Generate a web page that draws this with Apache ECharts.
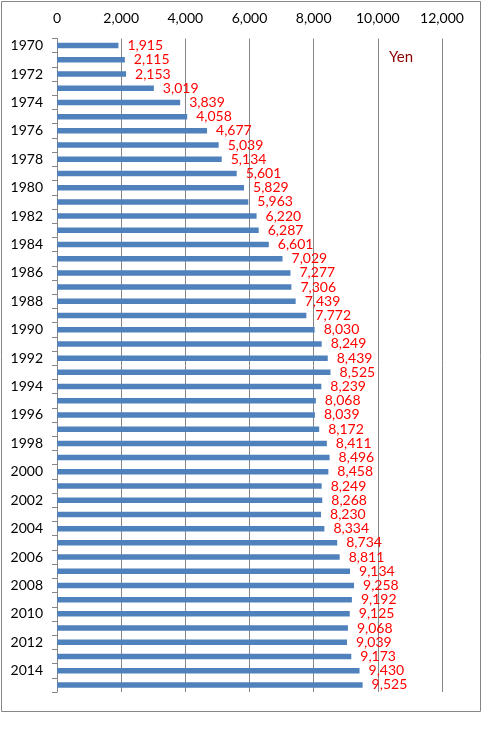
<!DOCTYPE html>
<html>
<head>
<meta charset="utf-8">
<script src="https://cdn.jsdelivr.net/npm/echarts@6/dist/echarts.min.js"></script>
<style>
  html, body { margin: 0; padding: 0; background: #fff; }
  #box { width: 483px; height: 734px; }
</style>
</head>
<body>
<div id="box"></div>
<script>
const years = ['1970', '1971', '1972', '1973', '1974', '1975', '1976', '1977', '1978', '1979',
  '1980', '1981', '1982', '1983', '1984', '1985', '1986', '1987', '1988', '1989',
  '1990', '1991', '1992', '1993', '1994', '1995', '1996', '1997', '1998', '1999',
  '2000', '2001', '2002', '2003', '2004', '2005', '2006', '2007', '2008', '2009',
  '2010', '2011', '2012', '2013', '2014', '2015'];

const yen = [1915, 2115, 2153, 3019, 3839, 4058, 4677, 5039, 5134, 5601,
  5829, 5963, 6220, 6287, 6601, 7029, 7277, 7306, 7439, 7772,
  8030, 8249, 8439, 8525, 8239, 8068, 8039, 8172, 8411, 8496,
  8458, 8249, 8268, 8230, 8334, 8734, 8811, 9134, 9258, 9192,
  9125, 9068, 9039, 9173, 9430, 9525];

const unitLabel = 'Yen';

const fmt = v => v.toLocaleString('en-US');

const chart = echarts.init(document.getElementById('box'));
chart.setOption({
  animation: false,
  textStyle: { fontFamily: 'Lato' },
  grid: { left: 57, right: 41, top: 38.5, bottom: 42, containLabel: false },
  graphic: [
    {
      type: 'rect',
      shape: { x: 1.5, y: 1.5, width: 479, height: 710 },
      style: { fill: 'none', stroke: '#868686', lineWidth: 1 },
      z: -1
    },
    {
      type: 'text',
      left: 389, top: 50,
      style: { text: unitLabel, fill: '#8B0000', font: '15px Lato' }
    }
  ],
  xAxis: {
    type: 'value',
    position: 'top',
    min: 0,
    max: 12000,
    interval: 2000,
    axisLine: { show: false },
    axisTick: { show: false },
    axisLabel: { color: '#000', fontSize: 14, margin: 13, formatter: fmt },
    splitLine: { show: true, lineStyle: { color: '#868686', width: 1 } }
  },
  yAxis: {
    type: 'category',
    data: years,
    inverse: true,
    axisLine: { show: true, lineStyle: { color: '#868686' } },
    axisTick: { show: true, interval: 0, length: 5, lineStyle: { color: '#868686' } },
    axisLabel: { interval: 1, color: '#000', fontSize: 14, margin: 14 }
  },
  series: [{
    type: 'bar',
    data: yen,
    barWidth: 5.5,
    itemStyle: { color: '#4F81BD' },
    label: {
      show: true,
      position: 'right',
      distance: 9,
      color: '#FF0000',
      fontSize: 14,
      formatter: p => fmt(p.value)
    }
  }]
});
</script>
</body>
</html>
